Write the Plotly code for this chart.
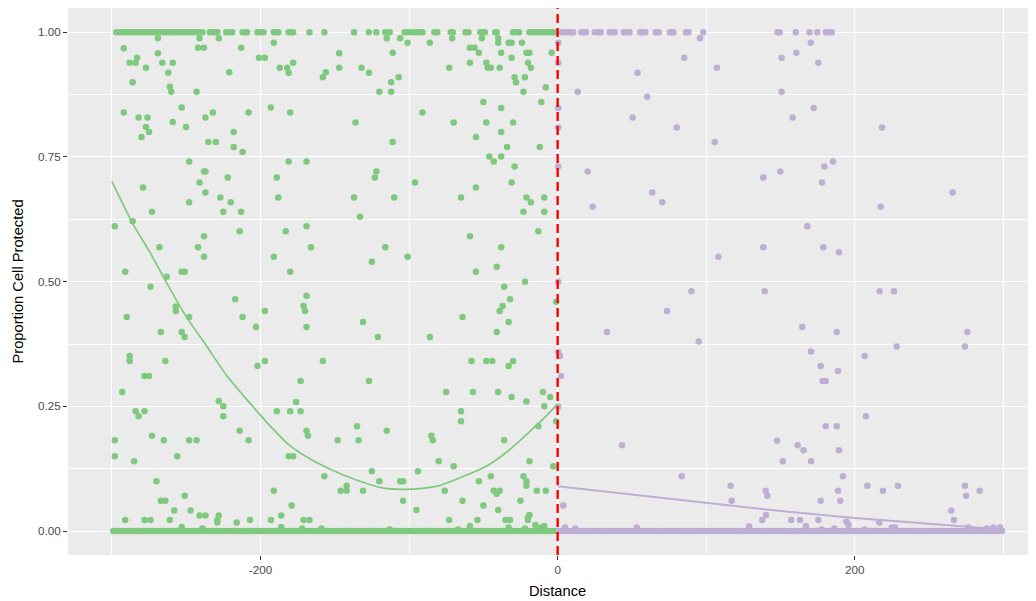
"""Scatter of cell protection against distance, with fitted curves either side of 0."""

import plotly.graph_objects as go

GREEN = "#7FC97F"
PURPLE = "#BEAED4"

# points sitting on 0 and 1 (dense rows)
GREEN_ROW0_X = [
    -299, -297, -295, -293, -291, -289, -287, -285, -283, -281, -279, -277, -275, -273, -271,
    -269, -267, -265, -263, -261, -259, -257, -255, -253, -251, -249, -247, -245, -243, -241,
    -239, -237, -235, -233, -231, -229, -227, -225, -223, -221, -219, -217, -215, -213, -211,
    -209, -207, -205, -203, -201, -199, -197, -195, -193, -191, -189, -187, -185, -183, -181,
    -179, -177, -175, -173, -171, -169, -167, -165, -163, -161, -159, -157, -155, -153, -151,
    -149, -147, -145, -143, -141, -139, -137, -135, -133, -131, -129, -127, -125, -123, -121,
    -119, -117, -115, -113, -111, -109, -107, -105, -103, -101, -99, -97, -95, -93, -91,
    -89, -87, -85, -83, -81, -79, -77, -75, -73, -71, -69, -67, -65, -63, -61,
    -59, -57, -55, -53, -51, -49, -47, -45, -43, -41, -39, -37, -35, -33, -31,
    -29, -27, -25, -23, -21, -19, -17, -15, -13, -11, -9, -7, -5, -3, -1,
]
GREEN_ROW1_X = [
    -297, -295, -293, -291, -289, -287, -285, -283, -281, -279, -277, -275, -273, -271, -269,
    -267, -265, -263, -261, -259, -257, -255, -253, -251, -249, -247, -245, -243, -241, -239,
    -234, -232, -230, -229, -223, -221, -219, -212, -210, -209, -202, -200, -198,
    -191, -189, -188, -181, -179, -178, -167, -157, -137, -127, -122, -116, -113,
    -103, -101, -99, -96, -94, -92, -91, -83, -81, -72, -70.5, -62, -60,
    -52, -50, -49, -42, -41, -30, -28, -26,
    -19, -17, -15, -13, -11, -9, -7, -5, -3, -1,
]
PURPLE_ROW0_X = [
    1, 3, 5, 7, 9, 11, 13, 15, 17, 19, 21, 23, 25, 27, 29,
    31, 33, 35, 37, 39, 41, 43, 45, 47, 49, 51, 53, 55, 57, 59,
    61, 63, 65, 67, 69, 71, 73, 75, 77, 79, 81, 83, 85, 87, 89,
    91, 93, 95, 97, 99, 101, 103, 105, 107, 109, 111, 113, 115, 117, 119,
    121, 123, 125, 127, 129, 131, 133, 135, 137, 139, 141, 143, 145, 147, 149,
    151, 153, 155, 157, 159, 161, 163, 165, 167, 169, 171, 173, 175, 177, 179,
    181, 183, 185, 187, 189, 191, 193, 195, 197, 199, 201, 203, 205, 207, 209,
    211, 213, 215, 217, 219, 221, 223, 225, 227, 229, 231, 233, 235, 237, 239,
    241, 243, 245, 247, 249, 251, 253, 255, 257, 259, 261, 263, 265, 267, 269,
    271, 273, 275, 277, 279, 281, 283, 285, 287, 289, 291, 293, 295, 297, 299,
]
PURPLE_ROW1_X = [
    3, 5, 7, 9, 10.5, 16, 17.5, 19, 25, 27, 29, 35, 37, 38.5, 44.5, 46.5, 48.3,
    55.5, 57, 59, 66, 68, 75.5, 77, 78, 86.3, 88, 98,
    148, 149.5, 160.3, 169.5, 174.7, 180.5, 182.5, 184.5,
]

# scattered points between 0 and 1
GREEN_MID_X = [
    -292, -288, -284, -283, -286, -277, -269, -269, -266, -259, -262, -261, -260, -292, -282,
    -276, -277, -275, -280, -259, -253, -250, -243, -241, -242, -238, -228, -221, -213, -237,
    -232, -235, -230, -218, -218, -212, -208, -201, -197, -191, -193, -187, -182, -181, -178,
    -180, -158, -156, -147, -147, -279, -273, -298, -286, -291, -274, -268, -263, -253, -251,
    -248, -248, -241, -238, -237, -237, -242, -238, -238, -227, -225, -222, -220, -213, -214,
    -217, -191, -189, -188, -181, -183, -180, -169, -169, -166, -169,
    -115, -106, -101, -86, -71, -51, -40, -40, -33, -31, -24, -111, -59, -56, -53,
    -38, -21, -19, -4, -31, -132, -127, -73, -59, -48, -47, -45, -39, -20, -18,
    -112, -107, -120, -112, -29, -22, -28, -23, -8, -50, -38, -11, -91, -136, -70,
    -48, -30, -55, -38, -111, -34, -12, -46, -43, -38, -29, -122, -123, -96, -31,
    -55, -137, -110, -65, -21, -18, -9, -133, -23, -9, -13, -116, -59, -38, -125,
    -101, -55, -41, -22, -36, -32,
    -257, -257, -290, -248, -253, -251, -267, -212, -203, -197, -171, -170, -169, -288, -288,
    -264, -202, -197, -158, -293, -278, -275, -173, -228, -225, -225, -284, -282, -278, -189,
    -180, -176, -173, -298, -298, -273, -265, -248, -243, -214, -208, -169, -168, -256, -285,
    -181, -178, -148, -157, -270, -191, -146, -142, -142, -267, -264, -251, -179, -258, -247,
    -241, -237, -228, -186, -291, -278, -274, -261, -229, -229, -216, -207, -193, -171, -167,
    -253, -239, -186, -172, -159,
    -131, -121, -86, -64, -41, -33, -39, -37, -127, -58, -48, -44, -33, -30, -75,
    -57, -40, -31, -21, -10, -5, -9, -65, -65, -1, -134, -135, -115, -85, -84,
    -13, -36, -80, -70, -19, -3, -125, -120, -106, -104, -94, -53, -45, -23, -21,
    -21, -131, -76, -43, -41, -39, -14, -8, -104, -64, -25, -95, -50, -40, -19,
    -73, -54, -35, -32, -20, -20, -15, -9, -11, -59, -113, -67, -33, -22, -1,
]
GREEN_MID_Y = [
    0.968, 0.939, 0.939, 0.949, 0.900, 0.929, 0.988, 0.958, 0.939, 0.939, 0.919, 0.891, 0.881, 0.839, 0.829,
    0.829, 0.810, 0.800, 0.790, 0.820, 0.849, 0.810, 0.881, 0.988, 0.969, 0.969, 0.988, 0.920, 0.969, 0.829,
    0.839, 0.780, 0.780, 0.800, 0.770, 0.760, 0.839, 0.949, 0.949, 0.979, 0.849, 0.929, 0.929, 0.919, 0.939,
    0.839, 0.910, 0.920, 0.958, 0.929, 0.689, 0.640, 0.611, 0.621, 0.520, 0.490, 0.569, 0.510, 0.520, 0.520,
    0.741, 0.659, 0.699, 0.721, 0.721, 0.679, 0.569, 0.591, 0.550, 0.669, 0.640, 0.709, 0.659, 0.640, 0.601,
    0.465, 0.550, 0.709, 0.669, 0.741, 0.601, 0.520, 0.741, 0.611, 0.569, 0.472,
    0.988, 0.988, 0.979, 0.979, 0.988, 0.988, 0.988, 0.979, 0.979, 0.979, 0.979, 0.959, 0.969, 0.969, 0.959,
    0.959, 0.959, 0.959, 0.959, 0.949, 0.929, 0.919, 0.929, 0.939, 0.939, 0.929, 0.929, 0.929, 0.939, 0.929,
    0.900, 0.910, 0.881, 0.881, 0.910, 0.910, 0.900, 0.881, 0.890, 0.860, 0.848, 0.860, 0.839, 0.819, 0.819,
    0.819, 0.819, 0.790, 0.800, 0.780, 0.770, 0.770, 0.751, 0.741, 0.751, 0.731, 0.721, 0.709, 0.699, 0.699,
    0.689, 0.669, 0.669, 0.669, 0.669, 0.659, 0.669, 0.630, 0.640, 0.640, 0.601, 0.569, 0.591, 0.569, 0.540,
    0.550, 0.520, 0.530, 0.500, 0.490, 0.465,
    0.441, 0.450, 0.429, 0.429, 0.399, 0.389, 0.399, 0.429, 0.409, 0.441, 0.451, 0.441, 0.409, 0.351, 0.341,
    0.341, 0.331, 0.341, 0.341, 0.279, 0.311, 0.311, 0.301, 0.261, 0.250, 0.230, 0.240, 0.230, 0.240, 0.240,
    0.240, 0.259, 0.240, 0.182, 0.150, 0.191, 0.182, 0.182, 0.182, 0.201, 0.182, 0.201, 0.191, 0.150, 0.140,
    0.150, 0.150, 0.182, 0.110, 0.100, 0.081, 0.081, 0.081, 0.091, 0.061, 0.061, 0.071, 0.051, 0.041, 0.041,
    0.031, 0.031, 0.031, 0.031, 0.022, 0.022, 0.022, 0.022, 0.022, 0.017, 0.017, 0.022, 0.022, 0.022, 0.022,
    0.008, 0.005, 0.008, 0.005, 0.005,
    0.419, 0.389, 0.389, 0.429, 0.399, 0.419, 0.441, 0.451, 0.301, 0.341, 0.341, 0.341, 0.331, 0.341, 0.279,
    0.279, 0.279, 0.269, 0.260, 0.279, 0.269, 0.250, 0.240, 0.220, 0.220, 0.182, 0.210, 0.201, 0.191, 0.182,
    0.210, 0.182, 0.140, 0.130, 0.140, 0.130, 0.120, 0.100, 0.100, 0.100, 0.120, 0.100, 0.110, 0.110, 0.100,
    0.091, 0.081, 0.081, 0.081, 0.075, 0.081, 0.081, 0.081, 0.061, 0.061, 0.061, 0.042, 0.051, 0.042, 0.032,
    0.022, 0.022, 0.022, 0.022, 0.022, 0.027, 0.012, 0.010, 0.007, 0.010, 0.003, 0.003, 0.007, 0.005, 0.460,
]
PURPLE_MID_X = [
    0.4, 0.4, 53.8, 13.5, 60.3, 0.4, 50.4, 0.4, 0.4, 20.2, 23.6, 0.4,
    95.8, 170.3, 160.6, 85.2, 150.7, 175.4, 107.2, 150.7, 172.3, 158.1, 80.1, 218.3, 105.7,
    185.3, 179.5, 149.8, 138.4, 177.9, 63.7, 265.8, 70.4, 217.4, 168.0, 138.4, 178.8, 189.3,
    108.1, 90.0, 139.3, 216.7, 226.3,
    0.4, 1.6, 2.2, 0.4, 33.2, 43.3, 3.8, 4.9, 11.9, 53.2,
    73.6, 94.9, 164.6, 187.8, 170.5, 177.0, 188.7, 178.3, 180.4, 206.6, 228.1, 274.1, 275.7,
    207.5, 180.4, 187.8, 147.6, 161.5, 165.5, 189.3, 151.6, 170.5, 83.5, 192.0, 116.4, 117.1,
    140.0, 141.1, 188.7, 190.2, 177.0, 208.4, 218.9, 229.0, 274.1, 274.8, 284.0, 264.9, 266.7,
    140.2, 137.7, 157.2, 163.1, 175.4, 194.3, 195.8, 216.5, 167.1, 128.8, 186.2, 177.7, 206.6,
    224.8, 227.0, 276.4, 288.7, 293.2, 297.7,
]
PURPLE_MID_Y = [
    0.979, 0.939, 0.919, 0.881, 0.871, 0.848, 0.829, 0.809, 0.731, 0.721, 0.650, 0.500,
    0.988, 0.979, 0.959, 0.949, 0.949, 0.939, 0.929, 0.881, 0.848, 0.829, 0.809, 0.809, 0.780,
    0.741, 0.731, 0.721, 0.709, 0.699, 0.679, 0.679, 0.659, 0.650, 0.611, 0.569, 0.569, 0.559,
    0.550, 0.481, 0.481, 0.481, 0.481,
    0.359, 0.351, 0.311, 0.249, 0.399, 0.172, 0.051, 0.007, 0.005, 0.007,
    0.441, 0.380, 0.409, 0.399, 0.360, 0.331, 0.321, 0.301, 0.301, 0.351, 0.370, 0.370, 0.399,
    0.230, 0.210, 0.210, 0.181, 0.172, 0.162, 0.162, 0.140, 0.140, 0.110, 0.110, 0.091, 0.061,
    0.081, 0.071, 0.081, 0.061, 0.061, 0.091, 0.081, 0.091, 0.091, 0.071, 0.081, 0.041, 0.022,
    0.032, 0.022, 0.022, 0.022, 0.022, 0.019, 0.012, 0.017, 0.010, 0.009, 0.005, 0.003, 0.003,
    0.007, 0.007, 0.007, 0.005, 0.007, 0.007,
]

# fitted curves
GREEN_FIT_X = [
    -300, -286, -274, -263, -250, -236, -223, -209, -196, -182, -169,
    -153, -135, -117, -99, -81, -64, -48, -34, -19, -7, 0,
]
GREEN_FIT_Y = [
    0.701, 0.617, 0.557, 0.497, 0.430, 0.370, 0.313, 0.263, 0.219, 0.176, 0.149,
    0.124, 0.102, 0.086, 0.084, 0.090, 0.109, 0.130, 0.159, 0.199, 0.233, 0.255,
]
PURPLE_FIT_X = [0, 50, 100, 150, 200, 250, 300]
PURPLE_FIT_Y = [0.090, 0.073, 0.056, 0.040, 0.026, 0.015, 0.003]

CUTOFF = 0

X_TICKS = [-200, 0, 200]
X_MINOR = [-300, -100, 100, 300]
Y_TICKS = [0, 0.25, 0.5, 0.75, 1]
Y_TICK_LABELS = ["0.00", "0.25", "0.50", "0.75", "1.00"]
Y_MINOR = [0.125, 0.375, 0.625, 0.875]

FONT = "Liberation Sans, Arial, sans-serif"


def group_points(row0, row1, mid_x, mid_y):
    xs = list(row0) + list(row1) + list(mid_x)
    ys = [0] * len(row0) + [1] * len(row1) + list(mid_y)
    return xs, ys


def build_figure() -> go.Figure:
    fig = go.Figure()

    for row0, row1, mx, my, colour in [
        (GREEN_ROW0_X, GREEN_ROW1_X, GREEN_MID_X, GREEN_MID_Y, GREEN),
        (PURPLE_ROW0_X, PURPLE_ROW1_X, PURPLE_MID_X, PURPLE_MID_Y, PURPLE),
    ]:
        xs, ys = group_points(row0, row1, mx, my)
        fig.add_trace(go.Scatter(
            x=xs, y=ys, mode="markers",
            marker=dict(color=colour, size=6.5, line=dict(width=0)),
        ))

    fig.add_trace(go.Scatter(
        x=GREEN_FIT_X, y=GREEN_FIT_Y, mode="lines",
        line=dict(color=GREEN, width=1.7, shape="spline", smoothing=0.6),
    ))
    fig.add_trace(go.Scatter(
        x=PURPLE_FIT_X, y=PURPLE_FIT_Y, mode="lines",
        line=dict(color=PURPLE, width=2.0),
    ))

    fig.add_shape(
        type="line", xref="x", yref="paper",
        x0=CUTOFF, x1=CUTOFF, y0=0, y1=1,
        line=dict(color="#FF0000", width=2.4, dash="9px,5px"),
    )

    axis_common = dict(
        showgrid=True, gridcolor="white", gridwidth=1.1,
        zeroline=False, showline=False,
        ticks="outside", ticklen=4, tickwidth=1.1, tickcolor="#333333",
        tickfont=dict(family=FONT, size=11.7, color="#4D4D4D"),
    )
    fig.update_xaxes(
        range=[-329.5, 321.9], tickvals=X_TICKS, ticktext=[str(v) for v in X_TICKS],
        minor=dict(tickvals=X_MINOR, showgrid=True, gridcolor="white", gridwidth=0.55, ticks=""),
        **axis_common,
    )
    fig.update_yaxes(
        range=[-0.048, 1.0487], tickvals=Y_TICKS, ticktext=Y_TICK_LABELS,
        minor=dict(tickvals=Y_MINOR, showgrid=True, gridcolor="white", gridwidth=0.55, ticks=""),
        **axis_common,
    )

    title_font = dict(family=FONT, size=14.7, color="black")
    fig.add_annotation(
        text="Distance", xref="paper", yref="paper", x=0.5057, y=0,
        xanchor="center", yanchor="middle", yshift=-36, showarrow=False, font=title_font,
    )
    fig.add_annotation(
        text="Proportion Cell Protected", xref="paper", yref="paper", x=0, y=0.5,
        xanchor="center", yanchor="middle", xshift=-51, textangle=-90,
        showarrow=False, font=title_font,
    )

    # the page body adds an 8px margin, so the figure is sized to fit the window
    fig.update_layout(
        width=1028, height=593,
        margin=dict(l=60, r=0, t=0, b=46),
        plot_bgcolor="#EBEBEB", paper_bgcolor="white",
        showlegend=False,
    )
    return fig


fig = build_figure()
fig.write_html("out.html")
